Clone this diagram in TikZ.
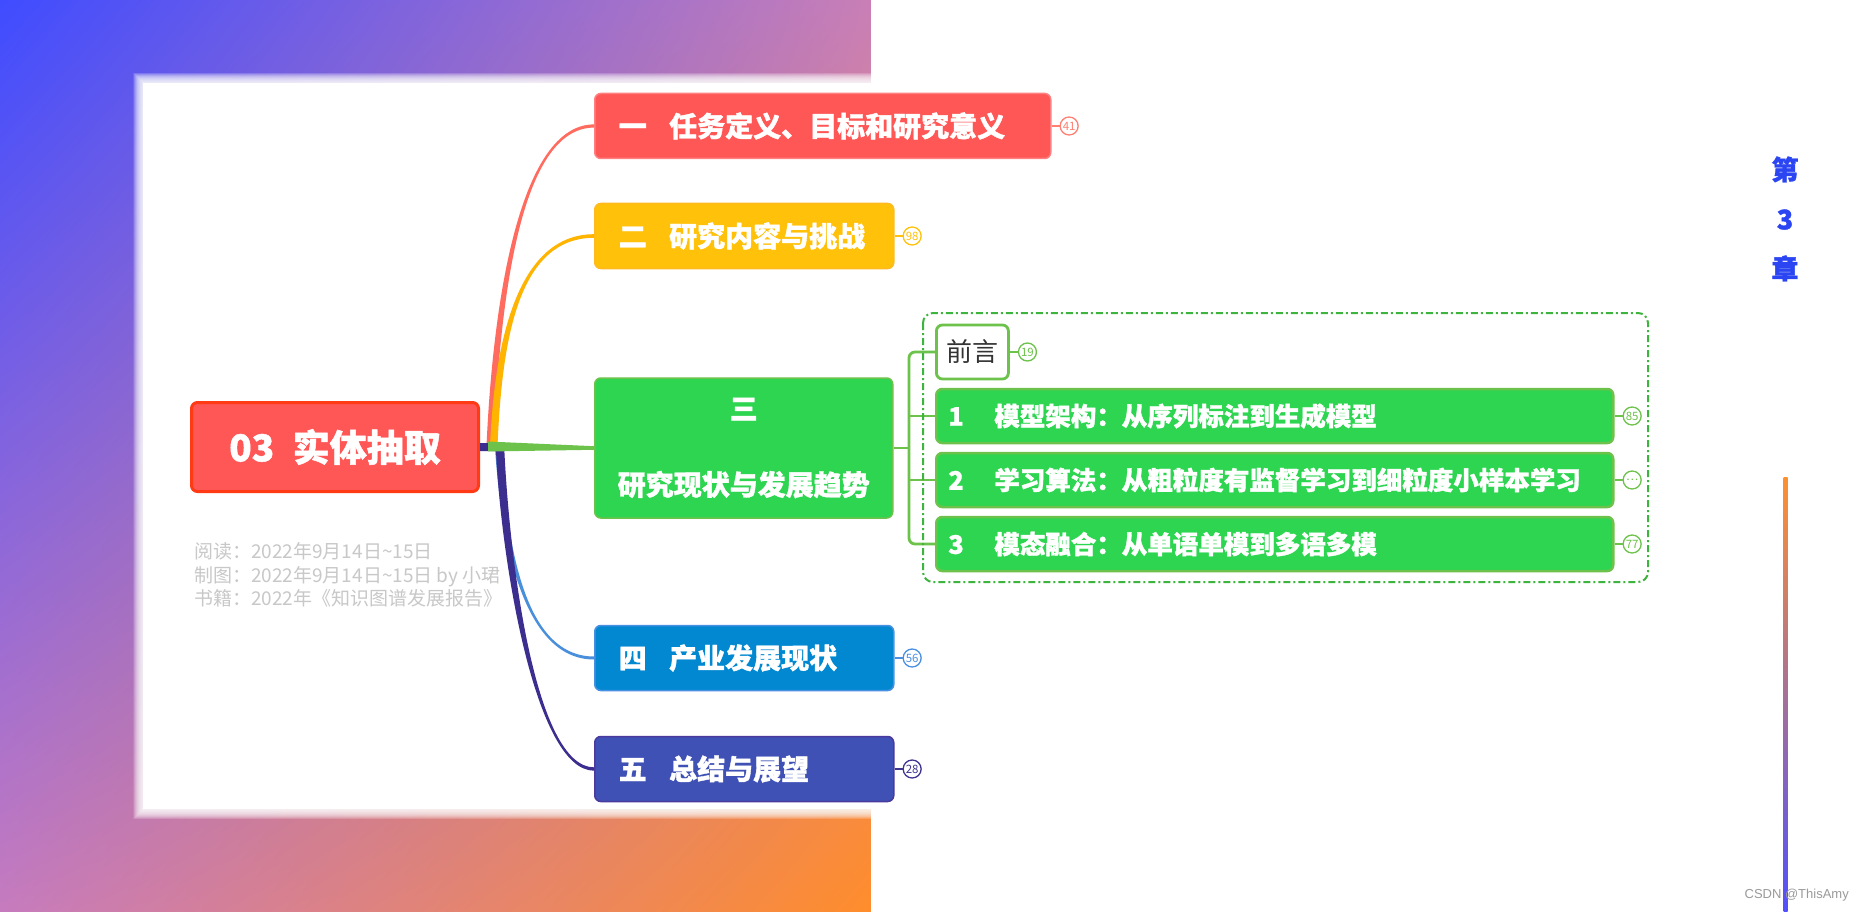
\documentclass[tikz,border=0pt]{standalone}
\usepackage{fontspec}
\setmainfont{Noto Sans CJK SC}[BoldFeatures={FakeBold=1.3}]
\newfontfamily\latfont{Liberation Sans}
\usetikzlibrary{calc,positioning,shadings}
\definecolor{bgUL}{HTML}{3F4CFF}
\definecolor{bgUR}{HTML}{C97FB6}
\definecolor{bgLL}{HTML}{C67BBE}
\definecolor{bgLR}{HTML}{FF8D2C}
\definecolor{cRootF}{HTML}{FF5656}
\definecolor{cRootB}{HTML}{FF3A14}
\definecolor{cRF}{HTML}{FF5656}
\definecolor{cRB}{HTML}{FF8080}
\definecolor{cRL}{HTML}{FF6B5E}
\definecolor{cRBadge}{HTML}{FF7F72}
\definecolor{cYF}{HTML}{FFC10A}
\definecolor{cYB}{HTML}{FFBA20}
\definecolor{cYL}{HTML}{FFB400}
\definecolor{cGF}{HTML}{2ED551}
\definecolor{cGB}{HTML}{6CC24A}
\definecolor{cFrame}{HTML}{3DB43D}
\definecolor{cBF}{HTML}{0288D1}
\definecolor{cBB}{HTML}{4A90E2}
\definecolor{cBL}{HTML}{4A8FDB}
\definecolor{cIF}{HTML}{3F51B5}
\definecolor{cIB}{HTML}{4A3A9E}
\definecolor{cIL}{HTML}{3B2E8E}
\definecolor{cIBadge}{HTML}{3F3591}
\definecolor{cInfo}{HTML}{C8C8C8}
\definecolor{cChap}{HTML}{2B45F2}
\definecolor{cDark}{HTML}{333333}
\definecolor{cMark}{HTML}{9A9A9A}
\definecolor{lineTop}{HTML}{FF9030}
\definecolor{lineBot}{HTML}{5050FF}
\begin{document}
\begin{tikzpicture}[x=1pt,y=-1pt,
  mainbox/.style={rounded corners=6pt, minimum height=65pt, text width=#1, inner xsep=24pt,
    align=left, font=\bfseries\fontsize{28}{32}\selectfont, text=white, anchor=west, line width=1.5pt},
  subbox/.style={rounded corners=6pt, minimum height=54pt, text width=653pt, inner xsep=12pt,
    align=left, font=\bfseries\fontsize{25.5}{30}\selectfont, text=white, anchor=west,
    line width=2.5pt, fill=cGF, draw=cGB},
  badge/.style={circle, draw=#1, fill=white, text=#1, minimum size=18pt, inner sep=0pt,
    line width=1.3pt, font=\fontsize{11.5}{12}\selectfont},
  blink/.style={draw=#1, line width=1.8pt},
  bracket/.style={draw=cGB, line width=2.8pt}
]
\useasboundingbox (0,0) rectangle (1863,912);
% background
\shade[upper left=bgUL, upper right=bgUR, lower left=bgLL, lower right=bgLR] (0,0) rectangle (871,912);
\foreach \k in {0,...,19} {
  \fill[white, opacity=0.1] ({133+0.5*\k},{73+0.5*\k}) rectangle (900,{819-0.5*\k});
}
\fill[white] (143,83) rectangle (900,809);
\fill[white] (871,0) rectangle (1863,912);

% nodes
\node[rounded corners=6pt, minimum width=287pt, minimum height=89pt, fill=cRootF, draw=cRootB,
  line width=3pt, text=white, font=\bfseries\fontsize{37}{40}\selectfont] (root) at (335,447)
  {03\hspace{0.5em}实体抽取};
\node[anchor=west, align=left, inner sep=0pt, text=cInfo, font=\fontsize{19}{23.5}\selectfont] (info) at (194,575)
  {阅读：2022年9月14日\char"007E 15日\\制图：2022年9月14日\char"007E 15日 by 小珺\\书籍：2022年《知识图谱发展报告》};

\node[mainbox=408pt, fill=cRF, draw=cRB] (n1) at (594,126) {一\hspace{0.8em}任务定义、目标和研究意义};
\node[mainbox=251pt, fill=cYF, draw=cYB] (n2) at (594,236) {二\hspace{0.8em}研究内容与挑战};
\node[rounded corners=6pt, minimum width=298pt, minimum height=140pt, text width=270pt, inner xsep=14pt,
  align=center, font=\bfseries\fontsize{28}{76}\selectfont, text=white, anchor=west, line width=1.5pt,
  fill=cGF, draw=cGB] (n3) at (594,448) {三\\研究现状与发展趋势};
\node[mainbox=251pt, fill=cBF, draw=cBB] (n4) at (594,658) {四\hspace{0.8em}产业发展现状};
\node[mainbox=251pt, fill=cIF, draw=cIB] (n5) at (594,769) {五\hspace{0.8em}总结与展望};

% connectors root -> branches (tapered)
\fill[cRL] ($(root.east)+(6.5,-1)$) .. controls (493,300) and (520,124.4) .. ($(n1.west)+(0,-1.6)$)
  -- ($(n1.west)+(0,1.6)$) .. controls (520,127.6) and (500,300) .. ($(root.east)+(13.5,-1)$) -- cycle;
\fill[cYL] ($(root.east)+(10,-1)$) .. controls (494.5,340) and (518,234.2) .. ($(n2.west)+(0,-1.8)$)
  -- ($(n2.west)+(0,1.8)$) .. controls (518,237.8) and (502,340) .. ($(root.east)+(17.5,-1)$) -- cycle;
\fill[cBL] ($(root.east)+(15,1)$) .. controls (501.5,545) and (524,659.5) .. ($(n4.west)+(0,1.5)$)
  -- ($(n4.west)+(0,-1.5)$) .. controls (524,656.5) and (507,545) .. ($(root.east)+(21,1)$) -- cycle;
\fill[cIL] ($(root.east)+(0,-4)$) -- ($(root.east)+(24,-4)$) .. controls (509,560) and (535,767.3) .. ($(n5.west)+(0,-1.7)$)
  -- ($(n5.west)+(0,1.7)$) .. controls (535,770.7) and (501,560) .. ($(root.east)+(16,4)$) -- ($(root.east)+(0,4)$) -- cycle;
\fill[cGB] ($(root.east)+(8,-5.5)$) -- ($(n3.west)+(0,-1.8)$) -- ($(n3.west)+(0,1.8)$) -- ($(root.east)+(8,4.5)$) -- cycle;

% badges of main branches
\node[badge=cRBadge, right=8pt of n1] (b1) {41};
\node[badge=cYF, right=8pt of n2] (b2) {98};
\node[badge=cBB, right=8pt of n4] (b4) {56};
\node[badge=cIBadge, right=8pt of n5] (b5) {28};
\draw[blink=cRBadge] (n1.east) -- (b1.west);
\draw[blink=cYF] (n2.east) -- (b2.west);
\draw[blink=cBB] (n4.east) -- (b4.west);
\draw[blink=cIBadge] (n5.east) -- (b5.west);

% children of 三
\node[rounded corners=6pt, minimum width=72pt, minimum height=54pt, fill=white, draw=cGB, line width=2.8pt,
  anchor=west, text=cDark, font=\fontsize{26}{30}\selectfont, inner xsep=4pt] (c0) at (935,352) {前言};
\node[subbox] (c1) at (935,416) {1\hspace{1.2em}模型架构：从序列标注到生成模型};
\node[subbox] (c2) at (935,480) {2\hspace{1.2em}学习算法：从粗粒度有监督学习到细粒度小样本学习};
\node[subbox] (c3) at (935,544) {3\hspace{1.2em}模态融合：从单语单模到多语多模};

\coordinate (bx) at ($(n3.east)+(15.5,0)$);
\draw[bracket] (n3.east) -- (bx);
\draw[bracket, rounded corners=6pt] (c0.west) -| (bx) |- (c3.west);
\draw[bracket, rounded corners=4pt] (bx |- c1.west) -- (c1.west);
\draw[bracket, rounded corners=4pt] (bx |- c2.west) -- (c2.west);

\node[badge=cGB, right=8pt of c0] (d0) {19};
\node[badge=cGB, right=8pt of c1] (d1) {85};
\node[badge=cGB, right=8pt of c2] (d2) {…};
\node[badge=cGB, right=8pt of c3] (d3) {77};
\draw[blink=cGB] (c0.east) -- (d0.west);
\draw[blink=cGB] (c1.east) -- (d1.west);
\draw[blink=cGB] (c2.east) -- (d2.west);
\draw[blink=cGB] (c3.east) -- (d3.west);

% boundary
\draw[cFrame, line width=2pt, rounded corners=10pt, dash pattern=on 7pt off 3pt on 2pt off 3pt]
  (923,313) rectangle (1648,582);

% chapter marker
\node[align=center, text=cChap, font=\bfseries\fontsize{27}{49.5}\selectfont] (chap) at (1785,219) {第\\3\\章};
\shade[top color=lineTop, bottom color=lineBot] (1783.5,477) rectangle (1787.5,912);
\node[anchor=east, text=cMark, font=\latfont\fontsize{13}{13}\selectfont, inner sep=0pt] (wm) at (1849,895) {CSDN @ThisAmy};
\end{tikzpicture}
\end{document}
